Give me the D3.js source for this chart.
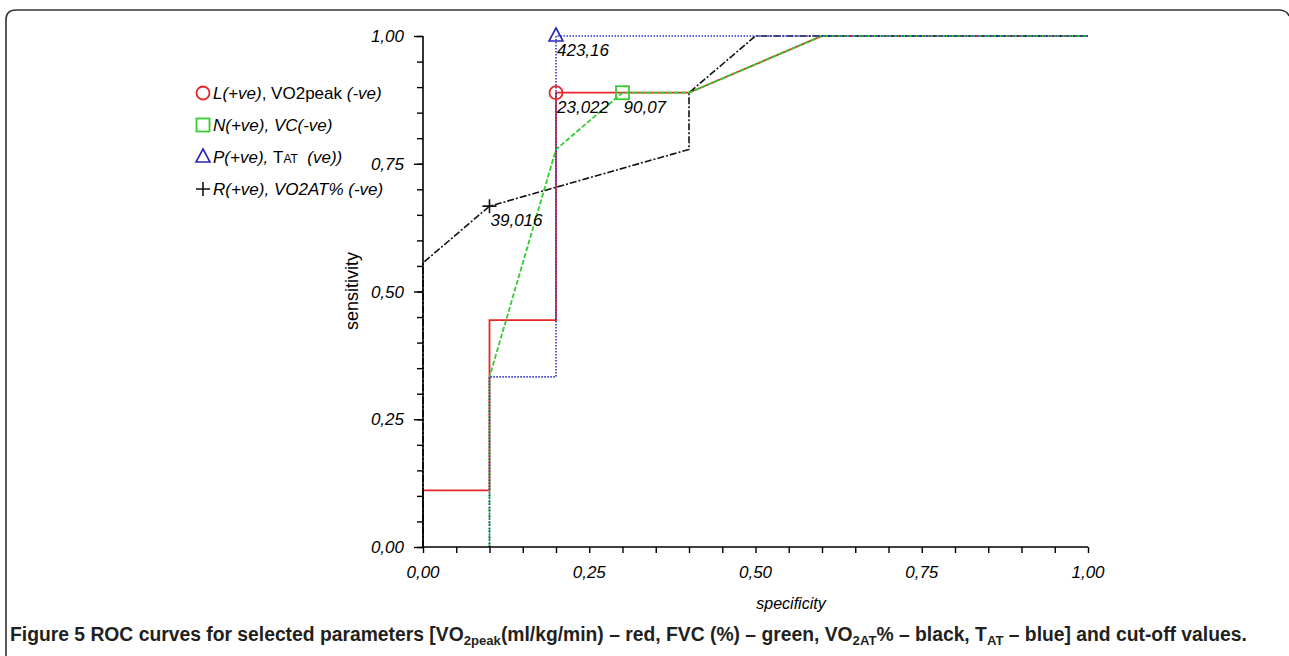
<!DOCTYPE html>
<html><head><meta charset="utf-8">
<script src="https://cdn.jsdelivr.net/npm/d3@7"></script>
<style>
html,body{margin:0;padding:0;background:#fff;}
svg{display:block;}
text{font-family:"Liberation Sans",Arial,sans-serif;}
</style></head>
<body>
<svg id="chart" width="1289" height="656"></svg>
<script>
// ---- data ----
const xTicks = [0, 0.25, 0.5, 0.75, 1.0];
const yTicks = [0, 0.25, 0.5, 0.75, 1.0];
const redSpec   = [0, 0, 0.1, 0.1, 0.2, 0.2, 0.4, 0.6, 1.0];
const redSens   = [0, 0.111, 0.111, 0.444, 0.444, 0.889, 0.889, 1.0, 1.0];
const greenSpec = [0.1, 0.1, 0.2, 0.3, 0.4, 0.6, 1.0];
const greenSens = [0, 0.333, 0.778, 0.889, 0.889, 1.0, 1.0];
const blueSpec  = [0.1, 0.1, 0.2, 0.2, 1.0];
const blueSens  = [0, 0.333, 0.333, 1.0, 1.0];
const blackSpec = [0, 0, 0.1, 0.4, 0.4, 0.5, 1.0];
const blackSens = [0, 0.556, 0.667, 0.778, 0.889, 1.0, 1.0];
const cutSpec   = [0.2, 0.3, 0.2, 0.1];
const cutSens   = [0.889, 0.889, 1.0, 0.667];
const cutLabels = ["23,022", "90,07", "423,16", "39,016"];

const svg = d3.select("#chart");
const x = d3.scaleLinear().domain([0, 1]).range([423, 1088]);
const y = d3.scaleLinear().domain([0, 1]).range([547, 36]);
const fmt = d => d.toFixed(2).replace(".", ",");

// frame
svg.append("path")
  .attr("d", "M6,656 V20 Q6,10 16,10 H1278 Q1287,10 1289,16")
  .attr("fill", "none").attr("stroke", "#333").attr("stroke-width", 1.6);

// curves
const line = d3.line().x(d => x(d[0])).y(d => y(d[1]));
const zip = (a, b) => a.map((v, i) => [v, b[i]]);
svg.append("path").attr("d", line(zip(redSpec, redSens)))
  .attr("fill", "none").attr("stroke", "#e8262a").attr("stroke-width", 1.8);
svg.append("path").attr("d", line(zip(blackSpec, blackSens)))
  .attr("fill", "none").attr("stroke", "#111").attr("stroke-width", 1.6)
  .attr("stroke-dasharray", "7,2,2,2");
svg.append("path").attr("d", line(zip(greenSpec, greenSens)))
  .attr("fill", "none").attr("stroke", "#33cc33").attr("stroke-width", 1.8)
  .attr("stroke-dasharray", "5,2");
svg.append("path").attr("d", line(zip(blueSpec, blueSens)))
  .attr("fill", "none").attr("stroke", "#3333cc").attr("stroke-width", 1.6)
  .attr("stroke-dasharray", "1.5,1.5");

// axes
const minor = d3.range(0, 1.0001, 0.05);
const xAxis = svg.append("g").attr("transform", `translate(0,${y(0)})`)
  .call(d3.axisBottom(x).tickValues(minor).tickSize(6).tickFormat(""));
xAxis.select(".domain").attr("stroke", "#000").attr("stroke-width", 1.6).attr("d", `M${x(0)},0H${x(1)}`);
xAxis.selectAll("line").attr("stroke-width", 1.4);
const yAxis = svg.append("g").attr("transform", `translate(${x(0)},0)`)
  .call(d3.axisLeft(y).tickValues(minor).tickSize(6).tickFormat(""));
yAxis.select(".domain").attr("stroke", "#000").attr("stroke-width", 1.6).attr("d", `M0,${y(0)}V${y(1)}`);
yAxis.selectAll("line").attr("stroke-width", 1.4);
svg.append("g").attr("transform", `translate(${x(0)},0)`)
  .call(d3.axisLeft(y).tickValues(yTicks).tickSize(9).tickFormat(""))
  .call(g => g.select(".domain").remove())
  .selectAll("line").attr("stroke-width", 1.4);

svg.append("g").selectAll("text").data(xTicks).join("text")
  .attr("x", d => x(d)).attr("y", 578).attr("text-anchor", "middle")
  .attr("font-size", 17).attr("font-style", "italic").text(fmt);
svg.append("g").selectAll("text").data(yTicks).join("text")
  .attr("x", 404).attr("y", d => y(d) + 6).attr("text-anchor", "end")
  .attr("font-size", 17).attr("font-style", "italic").text(fmt);

svg.append("text").attr("transform", "translate(358,291) rotate(-90)")
  .attr("text-anchor", "middle").attr("font-size", 18).text("sensitivity");
svg.append("text").attr("x", 791).attr("y", 609).attr("text-anchor", "middle")
  .attr("font-size", 16).attr("font-style", "italic").text("specificity");

// cut-off markers
const markerDraw = [
  (g, cx, cy) => g.append("circle").attr("cx", cx).attr("cy", cy).attr("r", 6.5)
      .attr("fill", "none").attr("stroke", "#e8262a").attr("stroke-width", 1.8),
  (g, cx, cy) => g.append("rect").attr("x", cx - 6.5).attr("y", cy - 6.5).attr("width", 13).attr("height", 13)
      .attr("fill", "none").attr("stroke", "#33cc33").attr("stroke-width", 1.8),
  (g, cx, cy) => g.append("path").attr("d", `M${cx},${cy - 8}L${cx + 7},${cy + 5}L${cx - 7},${cy + 5}Z`)
      .attr("fill", "none").attr("stroke", "#2727bb").attr("stroke-width", 1.6),
  (g, cx, cy) => g.append("path").attr("d", `M${cx - 7},${cy}H${cx + 7}M${cx},${cy - 7}V${cy + 7}`)
      .attr("fill", "none").attr("stroke", "#111").attr("stroke-width", 1.6)
];
const mk = svg.append("g");
cutSpec.forEach((s, i) => {
  markerDraw[i](mk, x(s), y(cutSens[i]));
  mk.append("text").attr("x", x(s) + 1).attr("y", y(cutSens[i]) + 20)
    .attr("font-size", 17).attr("font-style", "italic").text(cutLabels[i]);
});

// legend
const leg = svg.append("g").attr("font-size", 17);
const legRows = [
  [["L(+ve)", "italic"], [", VO2peak ", "normal"], ["(-ve)", "italic"]],
  [["N(+ve), VC(-ve)", "italic"]],
  [["P(+ve), ", "italic"], ["T", "normal"], ["AT", "normal", 12], ["  (ve))", "italic"]],
  [["R(+ve), VO2AT% (-ve)", "italic"]]
];
legRows.forEach((row, i) => {
  const cy = 93 + i * 32;
  markerDraw[i](leg, 203, cy);
  const t = leg.append("text").attr("x", 213).attr("y", cy + 6).attr("xml:space", "preserve");
  row.forEach(p => {
    const ts = t.append("tspan").attr("font-style", p[1]).text(p[0]);
    if (p[2]) ts.attr("font-size", p[2]);
  });
});

// caption
const capParts = [
  ["Figure 5 ", 0], ["ROC curves for selected parameters [VO", 0], ["2peak", 1], ["(ml/kg/min) – red, FVC (%) – green, VO", 0],
  ["2AT", 1], ["% – black, T", 0], ["AT", 1], [" – blue] and cut-off values.", 0]
];
function drawCaption(fs) {
  svg.selectAll(".cap").remove();
  const cap = svg.append("text").attr("class", "cap").attr("x", 10).attr("y", 641)
    .attr("font-family", "'Liberation Sans Narrow','Liberation Sans',sans-serif")
    .attr("font-weight", "bold").attr("font-size", fs).attr("fill", "#231f20");
  capParts.forEach((p, i) => {
    const prev = i > 0 ? capParts[i - 1][1] : 0;
    const ts = cap.append("tspan").text(p[0]);
    if (p[1]) ts.attr("font-size", fs * 0.68);
    ts.attr("dy", p[1] && !prev ? 4 : (!p[1] && prev ? -4 : 0));
  });
  return cap;
}
let capEl = drawCaption(21);
const natural = capEl.node().getComputedTextLength();
capEl = drawCaption(Math.min(22, 21 * 1238 / natural));
</script>
</body></html>
